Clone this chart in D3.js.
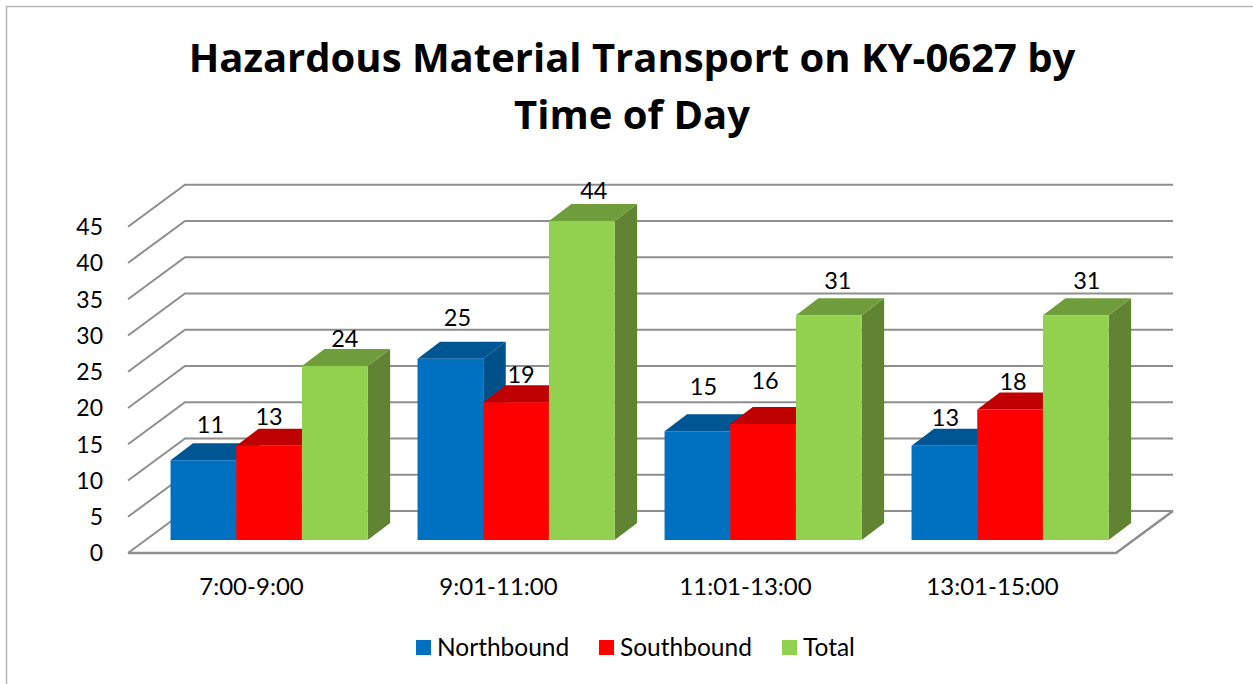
<!DOCTYPE html>
<html><head><meta charset="utf-8">
<script src="https://cdn.jsdelivr.net/npm/d3@7"></script>
<style>html,body{margin:0;padding:0;background:#fff}svg{display:block}text{font-family:Lato,"Open Sans",sans-serif;fill:#000}</style>
</head><body><div id="c"></div>
<script>
const titleLines = ["Hazardous Material Transport on KY-0627 by", "Time of Day"];
const categories = ["7:00-9:00", "9:01-11:00", "11:01-13:00", "13:01-15:00"];
const seriesNames = ["Northbound", "Southbound", "Total"];
const northbound = [11, 25, 15, 13];
const southbound = [13, 19, 16, 18];
const total = [24, 44, 31, 31];
const yTicks = [0, 5, 10, 15, 20, 25, 30, 35, 40, 45];

const W = 1253, H = 684;
const values = [northbound, southbound, total];
const colors = [
  {front:"#0070C0", top:"#005692", side:"#00508a"},
  {front:"#FF0000", top:"#BF0000", side:"#a80000"},
  {front:"#92D050", top:"#6F9D3C", side:"#618433"}
];
// label placement as nudges from the bar's top-centre: [dx, dy] per series, per group
const labelNudge = [
  [[7,-35],[7,-41],[6,-44],[1,-28]],
  [[0,-29],[5,-27],[2,-43],[3,-27]],
  [[10,-27],[12,-30],[9,-34],[11,-34]]
];

const depthX = 57, depthY = 42;      // wall depth
const barDX = 22.5, barDY = 17;      // bar depth
const x0 = d3.scaleBand().domain(categories).range([128, 1116]);
const y = d3.scaleLinear().domain([0, 45]).range([553, 226.7]);
const inset = 13;                    // floor front to bar front
const barW = 65.7;
const barX = (c, s) => x0(c) + x0.bandwidth()/2 + 17.6 - 1.5*barW + s*barW;
const barY = v => y(v) - inset;
const poly = pts => pts.map(p => p.join(",")).join(" ");

const svg = d3.select("#c").append("svg").attr("width", W).attr("height", H);

// frame
svg.append("path").attr("d", `M6.5 ${H}V6.5H${W}`).attr("fill","none").attr("stroke","#b4b4b4").attr("stroke-width",1.5);

// title
svg.append("g").selectAll("text").data(titleLines).join("text")
  .attr("x", 632).attr("y", (d,i) => 72 + i*57)
  .attr("text-anchor","middle").attr("font-weight",700).attr("font-size",40)
  .style("font-family",'"Open Sans",sans-serif')
  .text(d => d);

// walls: gridlines
const grid = svg.append("g").attr("fill","none").attr("stroke","#8e8e8e").attr("stroke-width",2);
grid.selectAll("path").data(yTicks).join("path")
  .attr("d", t => `M${x0.range()[0]} ${y(t)}L${x0.range()[0]+depthX} ${y(t)-depthY}H${x0.range()[1]+depthX}`);
grid.append("path").attr("d",
  `M${x0.range()[0]} ${y(0)}H${x0.range()[1]}L${x0.range()[1]+depthX} ${y(0)-depthY}`).attr("stroke-width",2.5);

// bars
const bars = svg.append("g");
categories.forEach((c, g) => {
  values.forEach((vals, s) => {
    const v = vals[g], l = barX(c,s), r = l + barW, t = barY(v), b = barY(0), col = colors[s];
    bars.append("polygon").attr("fill",col.side)
      .attr("points", poly([[r,t],[r+barDX,t-barDY],[r+barDX,b-barDY],[r,b]]));
    bars.append("polygon").attr("fill",col.top)
      .attr("points", poly([[l,t],[l+barDX,t-barDY],[r+barDX,t-barDY],[r,t]]));
    bars.append("rect").attr("fill",col.front).attr("x",l).attr("y",t).attr("width",barW).attr("height",b-t);
  });
});

// data labels
const labels = svg.append("g").attr("font-size",23.5).attr("text-anchor","middle");
values.forEach((vals, s) => vals.forEach((v, g) => {
  const c = categories[g], n = labelNudge[s][g];
  labels.append("text")
    .attr("x", barX(c,s) + barW/2 + n[0])
    .attr("y", barY(v) + n[1] + 8)
    .text(v);
}));

// y axis labels
const yAxis = svg.append("g").attr("transform","translate(103,0)")
  .call(d3.axisLeft(y).tickValues(yTicks).tickSize(0).tickPadding(0));
yAxis.select(".domain").remove();
yAxis.selectAll("text").attr("font-size",23).attr("font-family",'Lato,"Open Sans",sans-serif').attr("fill","#000").attr("dy","0.34em");

// x axis labels
const xAxis = svg.append("g").attr("transform","translate(0,595)")
  .call(d3.axisBottom(x0).tickSize(0).tickPadding(0));
xAxis.select(".domain").remove();
xAxis.selectAll("text").attr("font-size",24).attr("font-family",'Lato,"Open Sans",sans-serif').attr("fill","#000").attr("dy",0);

// legend
const legendX = [416, 599, 782];
const legend = svg.append("g");
seriesNames.forEach((n, i) => {
  legend.append("rect").attr("x",legendX[i]).attr("y",640).attr("width",15).attr("height",15).attr("fill",colors[i].front);
  legend.append("text").attr("x",legendX[i]+21).attr("y",656).attr("font-size",24.5).text(n);
});
</script></body></html>
